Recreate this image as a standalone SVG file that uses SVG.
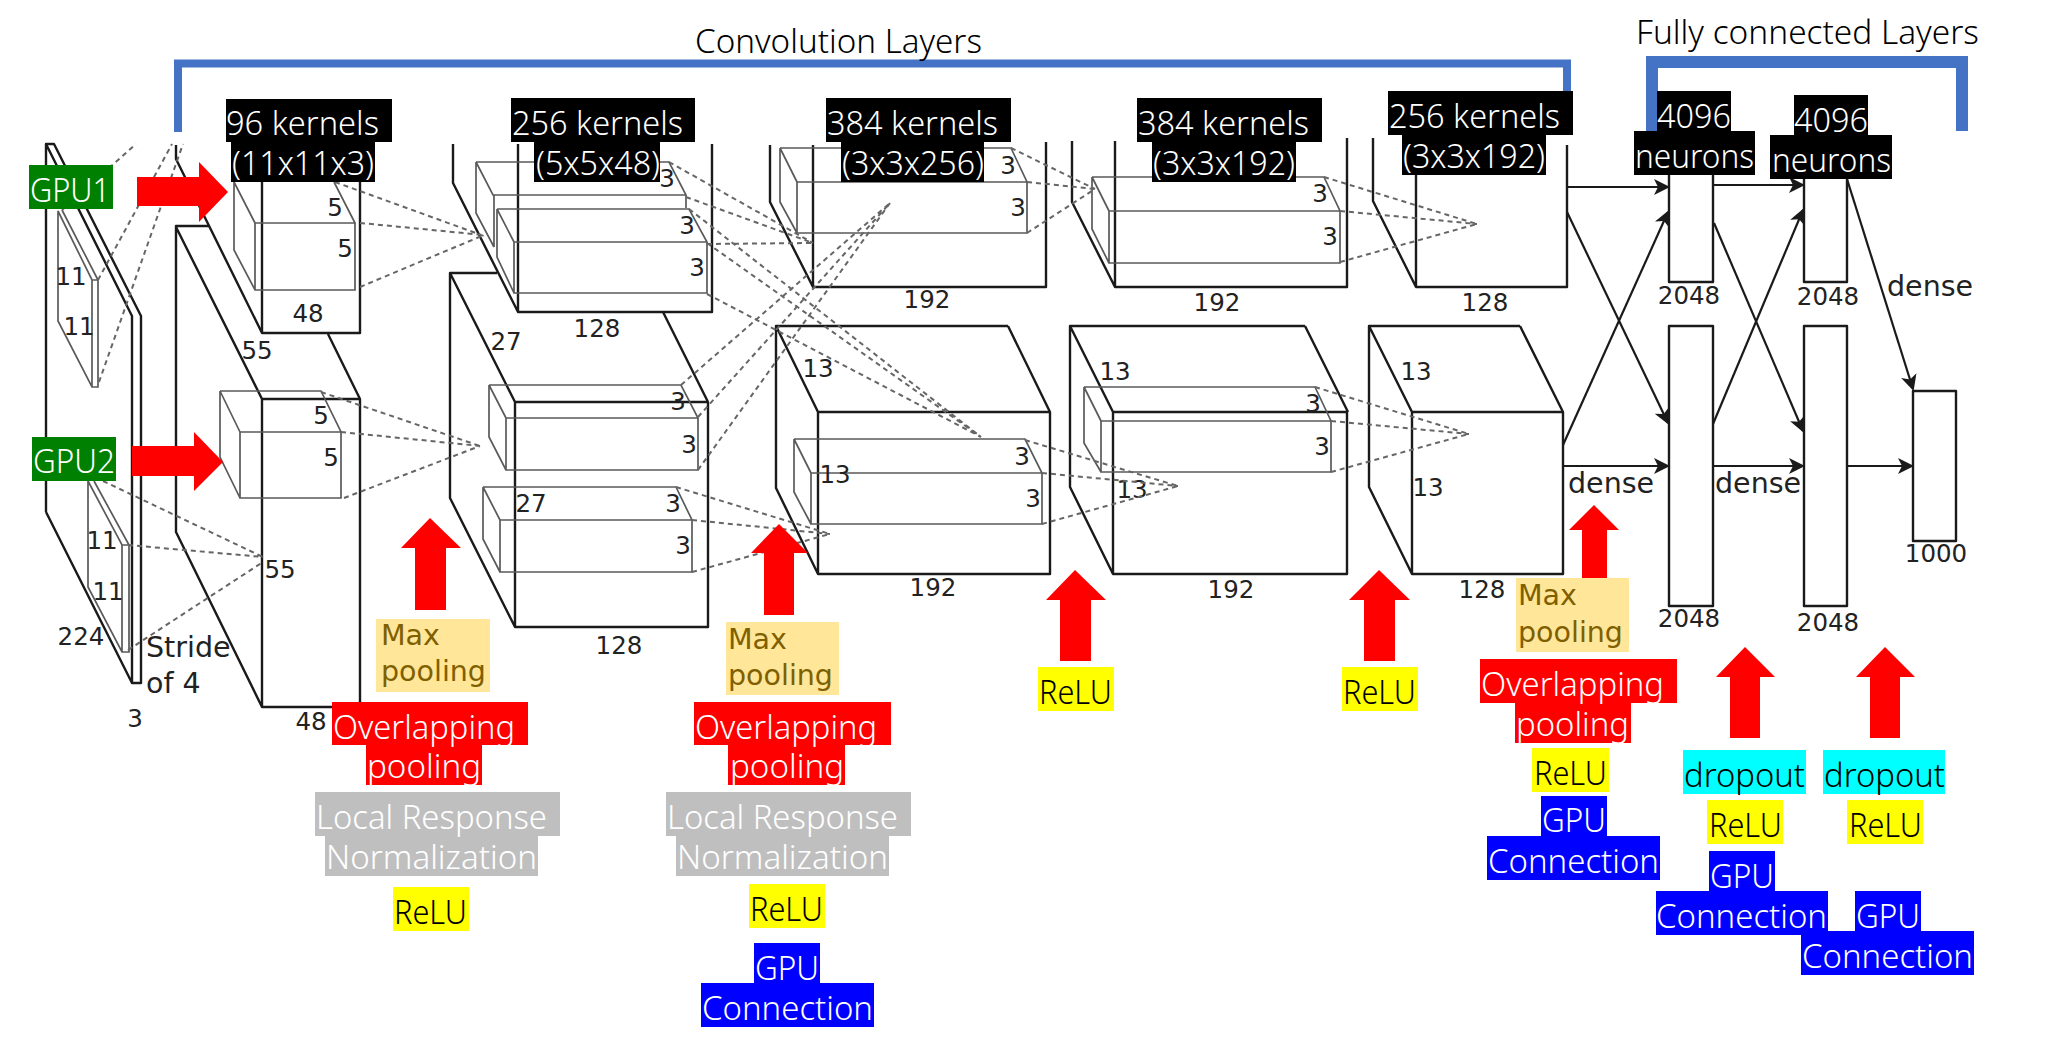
<svg xmlns="http://www.w3.org/2000/svg" width="2059" height="1048" viewBox="0 0 2059 1048">
<style>
.b{fill:none;stroke:#1a1a1a;stroke-width:2.4;stroke-linejoin:round}
.k{fill:none;stroke:#5a5a5a;stroke-width:1.7}
.d{fill:none;stroke:#666;stroke-width:2;stroke-dasharray:5 4}
.a{fill:none;stroke:#1a1a1a;stroke-width:2.2;marker-end:url(#ah)}
.br{fill:none;stroke:#4472c4}
.up{fill:#f00}
.n{font:24.500px "DejaVu Sans",sans-serif;fill:#222;text-anchor:middle}
.m{font:28.500px "DejaVu Sans",sans-serif;fill:#222}
.p{font:28.500px "DejaVu Sans",sans-serif;fill:#7f6000}
.t{font:33px "Noto Sans",sans-serif;font-weight:300}
text.l{transform:translateY(1px)}
.w{fill:#fff}.bk{fill:#000}
</style>
<defs>
<marker id="ah" markerUnits="userSpaceOnUse" markerWidth="18" markerHeight="18" refX="14" refY="8" orient="auto"><path d="M0 0L16 8L0 16L4 8Z" fill="#1a1a1a"/></marker>
</defs>
<rect width="2059" height="1048" fill="#fff"/>

<g id="layer-input">
<path class="b" d="M46 512V144H54L141 316V683H132V316L46 144M46 512L132 683"/>
<path class="k" d="M58 211V321L92 387H98V280H92L58 211ZM62 210L98 280M92 280V387"/>
<path class="k" d="M88 481V587L122 652H129V545H122L88 481ZM94 481L129 545M122 545V652"/>
<text class="n" x="71" y="285">11</text><text class="n" x="79" y="335">11</text>
<text class="n" x="102" y="549">11</text><text class="n" x="108" y="600">11</text>
<text class="n" x="81" y="645">224</text><text class="n" x="135" y="727">3</text>
<text class="m" x="146" y="657">Stride</text><text class="m" x="146" y="693">of 4</text>
</g>
<g id="layer-1">
<path class="b" d="M176 145V159L262 333H360V145M262 145V333"/>
<path class="b" d="M209 226H176V532L262 707H333M176 227L262 399H360V707M262 399V707M328 334L360 399"/>
<path class="k" d="M234 182V250L255 290H355V223H255V290M234 182L255 223M334 182L355 223"/>
<path class="k" d="M220 391H321L341 432H240V498H341V432M220 391V457L240 498M220 391L240 432"/>
<text class="n" x="335" y="216">5</text><text class="n" x="345" y="257">5</text>
<text class="n" x="321" y="424">5</text><text class="n" x="331" y="466">5</text>
<text class="n" x="308" y="322">48</text><text class="n" x="257" y="359">55</text>
<text class="n" x="280" y="578">55</text><text class="n" x="311" y="730">48</text>
</g>
<g id="layer-2">
<path class="b" d="M453 144V183L518 312H712V144M518 144V312"/>
<path class="b" d="M497 273H450V498L515 627H708V402H515V627M450 273L515 402M663 312L708 402"/>
<path class="k" d="M476 162H669L686 195V208M476 162V213L494 247M476 162L493 195H686M494 195V247"/>
<path class="k" d="M497 209H689L707 242V293H514V242H707M497 209V257L514 293M497 209L514 242"/>
<path class="k" d="M489 385H681L698 418V470H506V418H698M489 385V437L506 470M489 385L506 418"/>
<path class="k" d="M483 487H676L692 520V572H500V520H692M483 487V539L500 572M483 487L500 520"/>
<text class="n" x="667" y="187">3</text><text class="n" x="687" y="234">3</text><text class="n" x="697" y="276">3</text>
<text class="n" x="678" y="410">3</text><text class="n" x="689" y="453">3</text>
<text class="n" x="673" y="512">3</text><text class="n" x="683" y="554">3</text>
<text class="n" x="506" y="350">27</text><text class="n" x="531" y="512">27</text>
<text class="n" x="597" y="337">128</text><text class="n" x="619" y="654">128</text>
</g>
<g id="layer-3">
<path class="b" d="M770 145V202L813 287H1046V142M813 145V287"/>
<path class="b" d="M1008 326H776V488L818 574H1050V412H818V574M776 326L818 412M1008 326L1050 412"/>
<path class="k" d="M780 148H1011L1027 182V233H797V182H1027M780 148V202L797 233M780 148L797 182"/>
<path class="k" d="M794 439H1025L1042 473V524H811V473H1042M794 439V492L811 524M794 439L811 473"/>
<text class="n" x="1008" y="174">3</text><text class="n" x="1018" y="216">3</text>
<text class="n" x="1022" y="465">3</text><text class="n" x="1033" y="507">3</text>
<text class="n" x="818" y="377">13</text><text class="n" x="835" y="483">13</text>
<text class="n" x="927" y="308">192</text><text class="n" x="933" y="596">192</text>
</g>
<g id="layer-4">
<path class="b" d="M1072 141V202L1115 287H1347V138M1115 141V287"/>
<path class="b" d="M1305 326H1070V487L1113 574H1347V412H1113V574M1070 326L1113 412M1305 326L1348 412"/>
<path class="k" d="M1092 177H1324L1340 211V263H1109V211H1340M1092 177V229L1109 263M1092 177L1109 211"/>
<path class="k" d="M1084 387H1315L1331 421V472H1101V421H1331M1084 387V443L1101 472M1084 387L1101 421"/>
<text class="n" x="1320" y="202">3</text><text class="n" x="1330" y="245">3</text>
<text class="n" x="1313" y="412">3</text><text class="n" x="1322" y="455">3</text>
<text class="n" x="1115" y="380">13</text><text class="n" x="1132" y="498">13</text>
<text class="n" x="1217" y="311">192</text><text class="n" x="1231" y="598">192</text>
</g>
<g id="layer-5">
<path class="b" d="M1373 138V201L1416 287H1567V145M1416 175V287"/>
<path class="b" d="M1520 326H1369V487L1412 574H1563V412H1412V574M1369 326L1412 412M1520 326L1563 412"/>
<text class="n" x="1416" y="380">13</text><text class="n" x="1428" y="496">13</text>
<text class="n" x="1485" y="311">128</text><text class="n" x="1482" y="598">128</text>
</g>
<g id="fc-layers">
<path class="b" d="M1669 175V282H1713V175M1669 326H1713V606H1669ZM1804 179V282H1847V179M1804 326H1847V606H1804ZM1913 391H1956V541H1913Z"/>
<text class="n" x="1689" y="304">2048</text><text class="n" x="1828" y="305">2048</text>
<text class="n" x="1689" y="627">2048</text><text class="n" x="1828" y="631">2048</text>
<text class="n" x="1936" y="562">1000</text>
<text class="m" x="1887" y="296">dense</text><text class="m" x="1568" y="493">dense</text><text class="m" x="1715" y="493">dense</text>
</g>

<g id="connectors">
<path class="d" d="M62 210L136 144M98 280L172 144M99 382L183 144"/>
<path class="d" d="M103 481L263 557M128 545L263 557M128 650L263 562"/>
<path class="d" d="M335 182L484 236M360 223L484 235M360 287L484 235"/>
<path class="d" d="M321 392L480 446M341 432L480 446M344 498L480 446"/>
<path class="d" d="M669 162L813 243M686 197L813 243M707 244L813 243"/>
<path class="d" d="M689 209L981 437M707 243L981 437M707 294L981 437"/>
<path class="d" d="M681 385L890 203M698 417L890 203M698 470L890 203"/>
<path class="d" d="M676 487L830 534M692 520L830 534M692 572L830 534"/>
<path class="d" d="M1011 148L1095 189M1027 182L1095 189M1027 233L1095 189"/>
<path class="d" d="M1025 440L1178 486M1042 473L1178 486M1042 524L1178 486"/>
<path class="d" d="M1324 177L1477 224M1340 211L1477 224M1340 262L1477 224"/>
<path class="d" d="M1315 387L1469 434M1331 421L1469 434M1331 472L1469 434"/>
<path class="a" d="M1567 187H1668"/>
<path class="a" d="M1567 212L1668 423"/>
<path class="a" d="M1563 445L1668 212"/>
<path class="a" d="M1563 466H1668"/>
<path class="a" d="M1713 185H1803"/>
<path class="a" d="M1714 223L1803 431"/>
<path class="a" d="M1713 424L1803 210"/>
<path class="a" d="M1713 466H1803"/>
<path class="a" d="M1847 466H1912"/>
<path class="a" d="M1847 179L1913 389"/>
</g>

<g id="brackets">
<path class="br" stroke-width="8" d="M178 132V63.500H1567V98"/>
<path class="br" stroke-width="12" d="M1652 131V62H1962V131"/>
</g>
<g id="title-conv"><text class="t" x="695" y="53" textLength="287" lengthAdjust="spacingAndGlyphs">Convolution Layers</text></g>
<g id="title-fc"><text class="t" x="1636" y="44" textLength="343" lengthAdjust="spacingAndGlyphs">Fully connected Layers</text></g>

<g id="red-arrows">
<polygon class="up" points="137,177 199,177 199,162 228,192 199,222 199,206 137,206"/>
<polygon class="up" points="132,446 194,446 194,432 223,462 194,491 194,476 132,476"/>
<polygon class="up" points="415,610 415,548 401,548 430,518 461,548 446,548 446,610"/>
<polygon class="up" points="764,615 764,553 751,553 779,524 808,553 794,553 794,615"/>
<polygon class="up" points="1060,661 1060,600 1046,600 1075,570 1106,600 1091,600 1091,661"/>
<polygon class="up" points="1364,661 1364,600 1349,600 1379,570 1410,600 1395,600 1395,661"/>
<polygon class="up" points="1582,579 1582,530 1569,530 1594,505 1619,530 1607,530 1607,579"/>
<polygon class="up" points="1730,738 1730,677 1716,677 1745,647 1775,677 1760,677 1760,738"/>
<polygon class="up" points="1870,738 1870,677 1856,677 1885,647 1915,677 1900,677 1900,738"/>
</g>

<g id="gpu1"><rect x="29" y="165" width="84" height="44" fill="#008000"/><text class="t w l" x="30" y="201" textLength="80" lengthAdjust="spacingAndGlyphs">GPU1</text></g>
<g id="gpu2"><rect x="32" y="437" width="84" height="44" fill="#008000"/><text class="t w l" x="33" y="472" textLength="82" lengthAdjust="spacingAndGlyphs">GPU2</text></g>

<g id="kernels-1"><rect class="bk" x="226" y="99" width="166" height="43"/><rect class="bk" x="231" y="142" width="144" height="40"/>
<text class="t w l" x="226" y="134" textLength="153" lengthAdjust="spacingAndGlyphs">96 kernels</text><text class="t w l" x="232" y="174" textLength="142" lengthAdjust="spacingAndGlyphs">(11x11x3)</text></g>
<g id="kernels-2"><rect class="bk" x="511" y="98" width="184" height="44"/><rect class="bk" x="534" y="142" width="126" height="40"/>
<text class="t w l" x="512" y="134" textLength="171" lengthAdjust="spacingAndGlyphs">256 kernels</text><text class="t w l" x="536" y="174" textLength="124" lengthAdjust="spacingAndGlyphs">(5x5x48)</text></g>
<g id="kernels-3"><rect class="bk" x="826" y="98" width="185" height="44"/><rect class="bk" x="841" y="142" width="143" height="40"/>
<text class="t w l" x="827" y="134" textLength="171" lengthAdjust="spacingAndGlyphs">384 kernels</text><text class="t w l" x="842" y="174" textLength="142" lengthAdjust="spacingAndGlyphs">(3x3x256)</text></g>
<g id="kernels-4"><rect class="bk" x="1137" y="98" width="185" height="44"/><rect class="bk" x="1152" y="142" width="144" height="40"/>
<text class="t w l" x="1138" y="134" textLength="171" lengthAdjust="spacingAndGlyphs">384 kernels</text><text class="t w l" x="1153" y="174" textLength="142" lengthAdjust="spacingAndGlyphs">(3x3x192)</text></g>
<g id="kernels-5"><rect class="bk" x="1388" y="91" width="185" height="44"/><rect class="bk" x="1402" y="135" width="144" height="40"/>
<text class="t w l" x="1389" y="127" textLength="171" lengthAdjust="spacingAndGlyphs">256 kernels</text><text class="t w l" x="1403" y="167" textLength="142" lengthAdjust="spacingAndGlyphs">(3x3x192)</text></g>
<g id="neurons-1"><rect class="bk" x="1657" y="91" width="74" height="40"/><rect class="bk" x="1634" y="131" width="121" height="44"/>
<text class="t w l" x="1657" y="127" textLength="74" lengthAdjust="spacingAndGlyphs">4096</text><text class="t w l" x="1635" y="167" textLength="119" lengthAdjust="spacingAndGlyphs">neurons</text></g>
<g id="neurons-2"><rect class="bk" x="1794" y="95" width="74" height="40"/><rect class="bk" x="1770" y="135" width="122" height="44"/>
<text class="t w l" x="1794" y="131" textLength="74" lengthAdjust="spacingAndGlyphs">4096</text><text class="t w l" x="1772" y="171" textLength="119" lengthAdjust="spacingAndGlyphs">neurons</text></g>

<g id="maxpool-1"><rect x="376" y="619" width="114" height="73" fill="#ffe699"/><text class="p" x="381" y="645">Max</text><text class="p" x="381" y="681">pooling</text></g>
<g id="maxpool-2"><rect x="726" y="622" width="113" height="73" fill="#ffe699"/><text class="p" x="728" y="649">Max</text><text class="p" x="728" y="685">pooling</text></g>
<g id="maxpool-3"><rect x="1516" y="578" width="113" height="74" fill="#ffe699"/><text class="p" x="1518" y="605">Max</text><text class="p" x="1518" y="642">pooling</text></g>

<g id="overlap-1"><rect x="332" y="702" width="196" height="43" fill="#f00"/><rect x="366" y="745" width="116" height="40" fill="#f00"/>
<text class="t w l" x="333" y="738" textLength="182" lengthAdjust="spacingAndGlyphs">Overlapping</text><text class="t w l" x="367" y="777" textLength="114" lengthAdjust="spacingAndGlyphs">pooling</text></g>
<g id="overlap-2"><rect x="694" y="702" width="197" height="43" fill="#f00"/><rect x="728" y="745" width="117" height="40" fill="#f00"/>
<text class="t w l" x="695" y="738" textLength="182" lengthAdjust="spacingAndGlyphs">Overlapping</text><text class="t w l" x="730" y="777" textLength="114" lengthAdjust="spacingAndGlyphs">pooling</text></g>
<g id="overlap-3"><rect x="1480" y="659" width="197" height="44" fill="#f00"/><rect x="1515" y="703" width="116" height="40" fill="#f00"/>
<text class="t w l" x="1481" y="695" textLength="183" lengthAdjust="spacingAndGlyphs">Overlapping</text><text class="t w l" x="1516" y="735" textLength="113" lengthAdjust="spacingAndGlyphs">pooling</text></g>

<g id="lrn-1"><rect x="315" y="792" width="245" height="44" fill="#bfbfbf"/><rect x="325" y="836" width="213" height="40" fill="#bfbfbf"/>
<text class="t w l" x="316" y="828" textLength="231" lengthAdjust="spacingAndGlyphs">Local Response</text><text class="t w l" x="326" y="868" textLength="211" lengthAdjust="spacingAndGlyphs">Normalization</text></g>
<g id="lrn-2"><rect x="666" y="792" width="245" height="44" fill="#bfbfbf"/><rect x="676" y="836" width="213" height="40" fill="#bfbfbf"/>
<text class="t w l" x="667" y="828" textLength="231" lengthAdjust="spacingAndGlyphs">Local Response</text><text class="t w l" x="677" y="868" textLength="211" lengthAdjust="spacingAndGlyphs">Normalization</text></g>

<g id="relu-1"><rect x="393" y="887" width="76" height="44" fill="#ff0"/><text class="t l" x="394" y="923" textLength="73" lengthAdjust="spacingAndGlyphs">ReLU</text></g>
<g id="relu-2"><rect x="749" y="884" width="76" height="44" fill="#ff0"/><text class="t l" x="750" y="920" textLength="73" lengthAdjust="spacingAndGlyphs">ReLU</text></g>
<g id="relu-3"><rect x="1038" y="667" width="76" height="44" fill="#ff0"/><text class="t l" x="1039" y="703" textLength="73" lengthAdjust="spacingAndGlyphs">ReLU</text></g>
<g id="relu-4"><rect x="1342" y="667" width="76" height="44" fill="#ff0"/><text class="t l" x="1343" y="703" textLength="73" lengthAdjust="spacingAndGlyphs">ReLU</text></g>
<g id="relu-5"><rect x="1532" y="748" width="77" height="44" fill="#ff0"/><text class="t l" x="1534" y="784" textLength="73" lengthAdjust="spacingAndGlyphs">ReLU</text></g>
<g id="relu-6"><rect x="1707" y="800" width="76" height="44" fill="#ff0"/><text class="t l" x="1709" y="836" textLength="73" lengthAdjust="spacingAndGlyphs">ReLU</text></g>
<g id="relu-7"><rect x="1847" y="800" width="76" height="44" fill="#ff0"/><text class="t l" x="1849" y="836" textLength="73" lengthAdjust="spacingAndGlyphs">ReLU</text></g>

<g id="dropout-1"><rect x="1683" y="750" width="123" height="44" fill="#0ff"/><text class="t l" x="1684" y="786" textLength="121" lengthAdjust="spacingAndGlyphs">dropout</text></g>
<g id="dropout-2"><rect x="1823" y="750" width="122" height="44" fill="#0ff"/><text class="t l" x="1824" y="786" textLength="121" lengthAdjust="spacingAndGlyphs">dropout</text></g>

<g id="gpuconn-1"><rect x="754" y="943" width="66" height="40" fill="#00f"/><rect x="701" y="983" width="173" height="44" fill="#00f"/>
<text class="t w l" x="755" y="979" textLength="64" lengthAdjust="spacingAndGlyphs">GPU</text><text class="t w l" x="702" y="1019" textLength="171" lengthAdjust="spacingAndGlyphs">Connection</text></g>
<g id="gpuconn-2"><rect x="1541" y="796" width="66" height="40" fill="#00f"/><rect x="1487" y="836" width="173" height="44" fill="#00f"/>
<text class="t w l" x="1542" y="831" textLength="64" lengthAdjust="spacingAndGlyphs">GPU</text><text class="t w l" x="1488" y="872" textLength="171" lengthAdjust="spacingAndGlyphs">Connection</text></g>
<g id="gpuconn-3"><rect x="1709" y="851" width="66" height="40" fill="#00f"/><rect x="1656" y="891" width="172" height="44" fill="#00f"/>
<text class="t w l" x="1710" y="887" textLength="64" lengthAdjust="spacingAndGlyphs">GPU</text><text class="t w l" x="1656" y="927" textLength="171" lengthAdjust="spacingAndGlyphs">Connection</text></g>
<g id="gpuconn-4"><rect x="1855" y="891" width="66" height="40" fill="#00f"/><rect x="1801" y="931" width="173" height="44" fill="#00f"/>
<text class="t w l" x="1856" y="927" textLength="64" lengthAdjust="spacingAndGlyphs">GPU</text><text class="t w l" x="1802" y="967" textLength="171" lengthAdjust="spacingAndGlyphs">Connection</text></g>
</svg>
